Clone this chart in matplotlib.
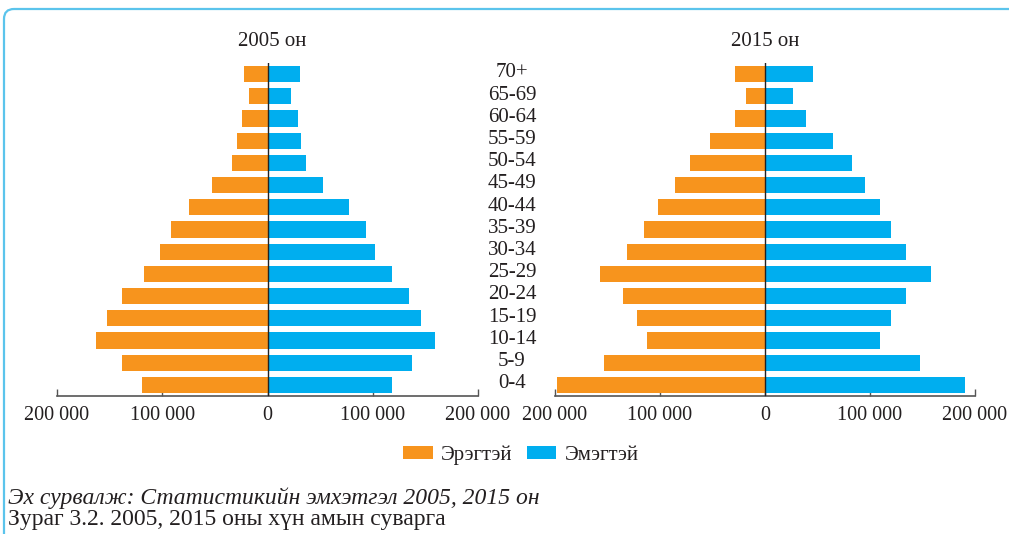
import matplotlib
matplotlib.use("Agg")
import matplotlib.pyplot as plt
from matplotlib.patches import Patch, FancyBboxPatch
from matplotlib import transforms

plt.rcParams['font.family'] = ['Liberation Serif', 'DejaVu Serif']

ages = ["0-4", "5-9", "10-14", "15-19", "20-24", "25-29", "30-34", "35-39",
        "40-44", "45-49", "50-54", "55-59", "60-64", "65-69", "70+"]

male_2005 = [119400, 138400, 163200, 152700, 138400, 117500, 102300, 91900,
             74800, 52900, 33900, 29100, 24400, 17700, 22500]
female_2005 = [118200, 137200, 159100, 145700, 134300, 118200, 102000, 93500,
               77300, 52600, 36400, 31700, 28800, 22200, 30700]
male_2015 = [197900, 153200, 112300, 121800, 135100, 157000, 131300, 115100,
             101800, 85600, 71400, 52300, 28500, 18100, 28500]
female_2015 = [190300, 147500, 109400, 119900, 134200, 157900, 134200, 119900,
               109400, 95100, 82800, 64700, 39000, 26600, 45700]

years = ["2005 он", "2015 он"]
legend_labels = ["Эрэгтэй", "Эмэгтэй"]
tick_vals = [-200000, -100000, 0, 100000, 200000]
tick_labels = ["200 000", "100 000", "0", "100 000", "200 000"]

ORANGE = "#F7941D"
BLUE = "#00AEEF"
TXT = "#231F20"
AXC = "#555555"

W, H = 1009, 534
fig = plt.figure(figsize=(W / 100, H / 100), dpi=100)

def fx(px):
    return px / W

def fy(py):
    return 1 - py / H

ax_bottom = fy(396)
ax_top = fy(63)
axL = fig.add_axes([fx(57), ax_bottom, fx(478) - fx(57), ax_top - ax_bottom])
axR = fig.add_axes([fx(555), ax_bottom, fx(975) - fx(555), ax_top - ax_bottom])

ypos = list(range(len(ages)))
for ax, m, f, yr in [(axL, male_2005, female_2005, years[0]),
                     (axR, male_2015, female_2015, years[1])]:
    ax.barh(ypos, [-v for v in m], height=0.73, color=ORANGE, zorder=2)
    ax.barh(ypos, f, height=0.73, color=BLUE, zorder=2)
    ax.axvline(0, color="#222222", lw=1.0, zorder=3)
    ax.set_xlim(-200000, 200000)
    ax.set_ylim(-0.5, len(ages) - 0.5)
    ax.set_xticks(tick_vals)
    ax.set_xticklabels(tick_labels)
    ax.set_yticks([])
    for s in ["top", "left", "right"]:
        ax.spines[s].set_visible(False)
    ax.spines["bottom"].set_color(AXC)
    ax.spines["bottom"].set_linewidth(1.2)
    ax.tick_params(axis="x", direction="in", length=5, width=1.0, color=AXC,
                   labelsize=14.5, labelcolor=TXT, pad=7)
    ax.set_facecolor("none")

# titles
fig.text(fx(272), fy(41), years[0], ha="center", va="center", fontsize=15, color=TXT)
fig.text(fx(765), fy(41), years[1], ha="center", va="center", fontsize=15, color=TXT)

# age labels in the middle
trans = transforms.blended_transform_factory(fig.transFigure, axL.transData)
for i, a in enumerate(ages):
    fig.text(fx(512), i + 0.05, a, transform=trans, ha="center", va="center",
             fontsize=15, color=TXT)

# legend
handles = [Patch(facecolor=ORANGE, edgecolor="none"),
           Patch(facecolor=BLUE, edgecolor="none")]
fig.legend(handles, legend_labels, loc="center", bbox_to_anchor=(fx(521), fy(455)),
           ncol=2, frameon=False, fontsize=15, handlelength=1.4, handleheight=0.58,
           handletextpad=0.4, columnspacing=0.7, labelcolor=TXT)

# source & caption
fig.text(fx(8), fy(498), "Эх сурвалж: Статистикийн эмхэтгэл 2005, 2015 он",
         ha="left", va="center", fontsize=17, style="italic", color=TXT)
fig.text(fx(8), fy(520), "Зураг 3.2. 2005, 2015 оны хүн амын суварга",
         ha="left", va="center", fontsize=17, color=TXT)

# border frame
frame = FancyBboxPatch((4, -60), 1200, H - 9 + 60, boxstyle="round,pad=0,rounding_size=10",
                       transform=transforms.IdentityTransform(), facecolor="none",
                       edgecolor="#5BC4EC", lw=1.6, figure=fig)
fig.patches.append(frame)

fig.savefig("out.png", dpi=100)
